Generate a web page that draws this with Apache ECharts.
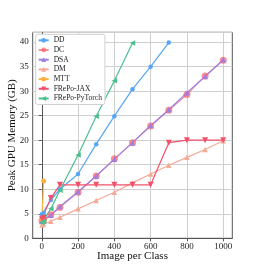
<!DOCTYPE html>
<html><head><meta charset="utf-8">
<script src="https://cdn.jsdelivr.net/npm/echarts@6/dist/echarts.min.js"></script>
<style>html,body{margin:0;padding:0;background:#fff}#c{width:258px;height:268px}</style>
</head><body><div id="c"></div>
<script>
const xValues = [1, 10, 50, 100, 200, 300, 400, 500, 600, 700, 800, 900, 1000];
const ddValues = [4.9, 5.1, 7.8, 10.0, 13.1, 19.2, 24.9, 30.4, 35.0, 39.9];
const dcValues = [3.6, 3.9, 4.8, 6.3, 9.4, 12.7, 16.2, 19.5, 22.9, 26.1, 29.3, 33.1, 36.3];
const dsaValues = [3.4, 3.6, 4.7, 6.5, 9.5, 12.7, 16.1, 19.5, 23.0, 26.2, 29.7, 33.0, 36.4];
const dmValues = [2.7, 2.9, 3.5, 4.3, 6.0, 7.7, 9.4, 11.3, 13.1, 14.9, 16.5, 18.1, 19.9];
const mttValues = [4.0, 11.7];
const jaxValues = [4.0, 4.2, 8.2, 10.9, 10.9, 10.9, 10.9, 10.9, 10.9, 19.5, 20.0, 20.0, 20.0];
const torchValues = [3.2, 3.4, 6.0, 9.8, 17.0, 24.9, 32.1, 39.8];
const xTicks = [0, 200, 400, 600, 800, 1000];
const yTicks = [0, 5, 10, 15, 20, 25, 30, 35, 40];

const serif = '"Liberation Serif", "DejaVu Serif", serif';
function pairs(vals) { return vals.map((v, i) => [xValues[i], v]); }

const chart = echarts.init(document.getElementById('c'), null, {renderer: 'canvas'});
function mk(name, vals, color, symbol, size, opts) {
  return Object.assign({
    name, type: 'line', data: pairs(vals), symbol, symbolSize: size,
    lineStyle: {color, width: 1.2}, itemStyle: {color},
    showSymbol: true, animation: false, z: 3
  }, opts || {});
}
const option = {
  animation: false,
  backgroundColor: '#fff',
  grid: {left: 32.7, right: 25.7, top: 32.3, bottom: 29.7, show: true, borderColor: '#555', borderWidth: 1,
    containLabel: false, outerBoundsMode: 'none'},
  xAxis: {
    type: 'value', min: -50, max: 1050,
    name: 'Image per Class', nameLocation: 'middle', nameGap: 12, nameMoveOverlap: false,
    nameTextStyle: {fontFamily: serif, fontSize: 11, color: '#111'},
    axisLine: {show: true, lineStyle: {color: '#555'}},
    axisTick: {show: true, customValues: xTicks, length: 3, lineStyle: {color: '#555'}},
    axisLabel: {customValues: xTicks, fontFamily: serif, fontSize: 9, color: '#222', margin: 4,
      formatter: v => String(v)},
    splitLine: {show: true, customValues: xTicks, lineStyle: {color: '#cfcfcf', width: 1}}
  },
  yAxis: {
    type: 'value', min: 0, max: 42, interval: 5,
    name: 'Peak GPU Memory (GB)', nameLocation: 'middle', nameGap: 15, nameMoveOverlap: false,
    nameTextStyle: {fontFamily: serif, fontSize: 11, color: '#111'},
    axisLine: {show: true, lineStyle: {color: '#555'}},
    axisTick: {show: true, length: 3, lineStyle: {color: '#555'}},
    axisLabel: {fontFamily: serif, fontSize: 9, color: '#222', margin: 4, showMaxLabel: false,
      formatter: v => (yTicks.indexOf(v) >= 0 ? String(v) : '')},
    splitLine: {show: true, lineStyle: {color: '#cfcfcf', width: 1}}
  },
  legend: {
    orient: 'vertical', left: 35.7, top: 34.3,
    backgroundColor: '#fff', borderColor: '#d0d0d0', borderWidth: 1, borderRadius: 2,
    padding: [2, 3, 2, 2], itemWidth: 10, itemHeight: 6, itemGap: 1.7,
    textStyle: {fontFamily: serif, fontSize: 7.5, color: '#222'}
  },
  series: [
    mk('DD', ddValues, '#56a6f5', 'circle', 4.5),
    mk('DC', dcValues, 'rgba(246,96,110,0.7)', 'circle', 7),
    mk('DSA', dsaValues, '#9b7fe3', 'triangle', 5.5),
    mk('DM', dmValues, '#f3ab98', 'triangle', 5.5),
    mk('MTT', mttValues, '#fdb13c', 'circle', 5),
    mk('FRePo-JAX', jaxValues, '#f3516b', 'triangle', 6, {symbolRotate: 180}),
    mk('FRePo-PyTorch', torchValues, '#4cbf8e', 'triangle', 5.5, {symbolRotate: 90})
  ]
};
chart.setOption(option);
</script></body></html>
